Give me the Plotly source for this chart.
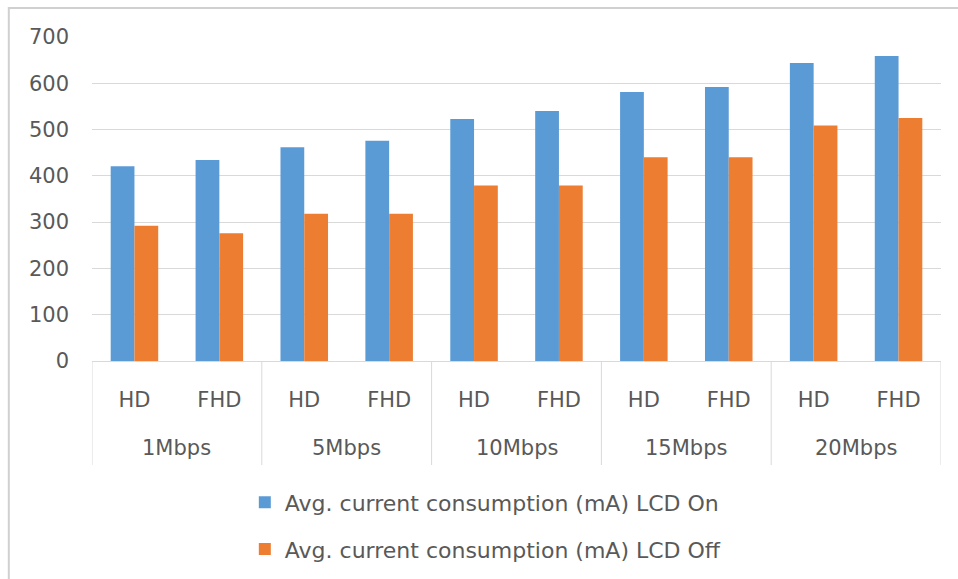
import plotly.graph_objects as go

# Bitrate groups and resolutions
bitrates = ["1Mbps", "5Mbps", "10Mbps", "15Mbps", "20Mbps"]
resolutions = ["HD", "FHD"]

# Average current consumption (mA), HD/FHD per bitrate
lcd_on = [421, 434, 462, 476, 523, 540, 581, 592, 644, 659]
lcd_off = [292, 276, 318, 318, 379, 379, 440, 440, 509, 525]

y_ticks = [0, 100, 200, 300, 400, 500, 600, 700]

FONT = "DejaVu Sans"
SIZE = 21
TEXT = "#595959"
GRID = "#d9d9d9"

n_res = len(resolutions)
positions = list(range(len(bitrates) * n_res))
inner_labels = [resolutions[i % n_res] for i in positions]

fig = go.Figure()
fig.add_trace(go.Bar(
    x=positions, y=lcd_on,
    name="Avg. current consumption (mA) LCD On",
    marker=dict(color="#5b9bd5", line_width=0),
    legendgroup="on",
))
fig.add_trace(go.Bar(
    x=positions, y=lcd_off,
    name="Avg. current consumption (mA) LCD Off",
    marker=dict(color="#ed7d31", line_width=0),
    legendgroup="off",
))

# Outer (bitrate) labels under each pair of resolution labels
annotations = []
for g, label in enumerate(bitrates):
    annotations.append(dict(
        x=g * n_res + (n_res - 1) / 2, xref="x",
        y=-0.268, yref="paper", yanchor="middle",
        text=label, showarrow=False,
        font=dict(family=FONT, size=SIZE, color=TEXT),
    ))

# Group dividers below the axis
shapes = []
for g in range(len(bitrates) + 1):
    shapes.append(dict(
        type="line", xref="x", yref="paper",
        x0=g * n_res - 0.5, x1=g * n_res - 0.5, y0=0, y1=-0.321,
        line=dict(color=GRID, width=1),
    ))
# Outer chart frame
shapes.append(dict(
    type="rect", xref="paper", yref="paper",
    x0=-0.098, x1=1.2, y0=-0.9, y1=1.0895,
    line=dict(color="#d0d0d0", width=2), layer="below",
))

fig.update_layout(
    width=958, height=579,
    margin=dict(l=92, r=17, t=37, b=218, autoexpand=False),
    paper_bgcolor="white", plot_bgcolor="white",
    font=dict(family=FONT, size=SIZE, color=TEXT),
    barmode="group", bargap=0.44, bargroupgap=0,
    showlegend=True,
    legend=dict(
        x=0.18, y=-0.372, xanchor="left", yanchor="top",
        traceorder="grouped", tracegroupgap=15,
        font=dict(family=FONT, size=22, color=TEXT),
        itemwidth=30,
    ),
    xaxis=dict(
        range=[-0.5, len(positions) - 0.5],
        tickvals=positions, ticktext=inner_labels,
        showline=True, linecolor=GRID, linewidth=1,
        ticks="", ticklabelstandoff=20,
        tickfont=dict(family=FONT, size=SIZE, color=TEXT),
        showgrid=False, zeroline=False, automargin=False,
    ),
    yaxis=dict(
        range=[0, 700], tickvals=y_ticks,
        showgrid=True, gridcolor=GRID, gridwidth=1,
        zeroline=False, showline=False,
        ticks="", ticklabelstandoff=22,
        tickfont=dict(family=FONT, size=SIZE, color=TEXT),
        automargin=False,
    ),
    annotations=annotations,
    shapes=shapes,
)

fig.write_html("out.html")
